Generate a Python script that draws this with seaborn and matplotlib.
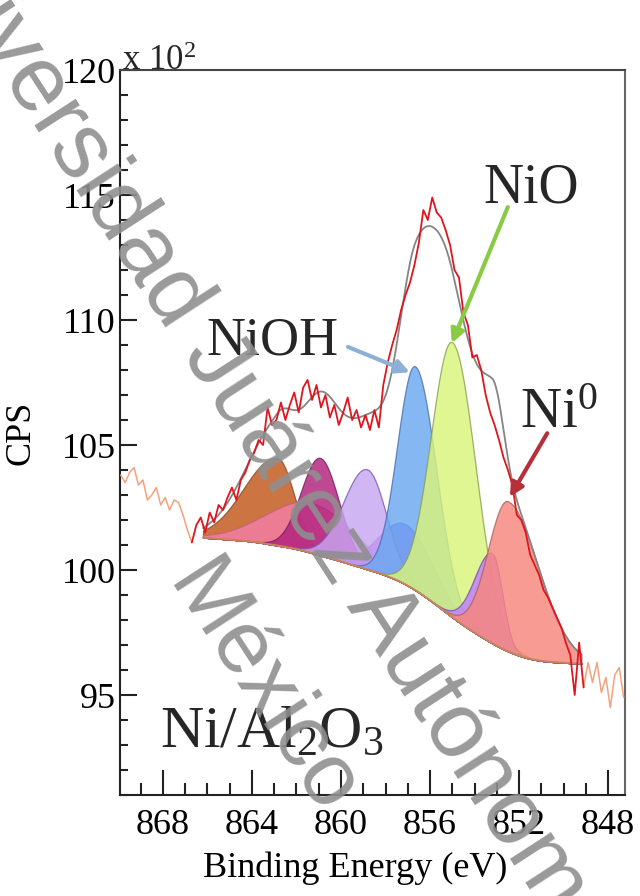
import numpy as np
import pandas as pd
import matplotlib
matplotlib.use("Agg")
import matplotlib.pyplot as plt
from matplotlib.ticker import MultipleLocator
import seaborn as sns

# ---------------- data (CPS / 100) ----------------
energy = np.round(np.arange(869.9, 847.25, -0.2), 1)   # binding-energy grid (eV)
cps = [
    103.8, 103.5, 103.9, 104.1, 103.4, 103.6, 102.8, 103.0, 103.3, 102.6,
    102.9, 102.4, 102.8, 102.7, 102.2, 101.6, 101.1, 101.8, 102.1, 101.5,
    102.3, 101.9, 102.6, 102.4, 102.9, 103.3, 102.8, 103.6, 103.9, 104.4,
    104.7, 105.2, 105.0, 106.5, 105.8, 106.0, 106.7, 106.0, 106.6, 107.1,
    106.3, 107.3, 107.6, 106.8, 107.4, 106.5, 107.0, 106.1, 106.6, 105.8,
    106.3, 106.9, 106.0, 106.4, 105.7, 106.2, 105.6, 106.4, 105.7, 107.4,
    108.3, 109.0, 109.6, 110.4, 111.0, 111.5, 112.2, 113.1, 114.4, 114.0,
    114.9, 114.3, 114.1, 113.6, 113.0, 112.0, 111.7, 110.3, 109.8, 108.5,
    108.6, 108.0, 107.0, 106.3, 105.8, 105.2, 104.5, 104.0, 103.4, 102.2,
    102.0, 101.5, 100.6, 100.2, 99.8, 99.2, 98.9, 98.5, 98.1, 97.7,
    97.1, 96.6, 95.0, 97.1, 95.3, 96.3, 95.5, 96.3, 95.1, 95.7,
    94.5, 95.8, 96.1, 94.9,
]

fit_window = [866.2, 849.2]          # eV range of the peak fit

# Shirley-type background
bg_energy = [866.2, 864.0, 862.0, 860.0, 858.0, 857.0, 856.0, 855.0, 854.2, 853.0, 852.0, 851.0, 849.2]
bg_level = [101.3, 101.15, 100.85, 100.35, 99.8, 99.4, 98.8, 98.1, 97.6, 96.95, 96.55, 96.35, 96.25]

# fitted components (drawing order)
comp_label = ["sat1", "sat2", "sat3", "sat4", "sat5", "NiOH", "NiO", "sat6", "Ni0"]
comp_center = [862.85, 861.3, 860.94, 857.1, 858.83, 856.67, 855.0, 853.2, 852.5]
comp_height = [3.5, 2.0, 3.9, 2.4, 4.0, 8.95, 11.0, 3.6, 6.0]
comp_sig_hi = [1.5, 2.0, 0.85, 1.2, 1.05, 0.8, 0.95, 0.8, 0.9]
comp_sig_lo = [0.75, 2.0, 0.85, 1.2, 0.87, 0.95, 1.05, 0.45, 1.4]
comp_color = ["#c2561a", "#f47ea6", "#b1207c", "#a55cf5", "#c7a6f2",
              "#6aa8f0", "#d9f47a", "#c07cff", "#f7867c"]
comp_edge = ["#8a4a2a", "#c0607a", "#7a2060", "#6a40b0", "#7a5ab0",
             "#4a70b0", "#8aa050", "#7a50b0", "#b06060"]

# ---------------- style ----------------
sns.set_theme(style="ticks")
plt.rcParams["font.family"] = ["Liberation Serif", "DejaVu Serif"]
plt.rcParams["mathtext.fontset"] = "custom"
plt.rcParams["mathtext.rm"] = "Liberation Serif"
plt.rcParams["mathtext.it"] = "Liberation Serif:italic"
plt.rcParams["mathtext.bf"] = "Liberation Serif:bold"
plt.rcParams["axes.grid"] = False

fig = plt.figure(figsize=(6.4, 8.96), dpi=100)
ax = fig.add_axes([120 / 640, 1 - 795 / 896, 505 / 640, 725 / 896])

df = pd.DataFrame({"E": energy, "cps": cps})
left = df[df.E >= 866.7]
mid = df[(df.E <= 866.7) & (df.E >= 849.1)]
right = df[df.E <= 849.1]

Ef = np.linspace(fit_window[0], fit_window[1], 500)
bg_lin = np.interp(Ef, bg_energy[::-1], bg_level[::-1])
k = 15
bg = np.convolve(np.pad(bg_lin, k, mode="edge"), np.ones(2 * k + 1) / (2 * k + 1), mode="valid")


def component(c, h, shi, slo):
    s = np.where(Ef > c, shi, slo)
    return h * np.exp(-0.5 * ((Ef - c) / s) ** 2)


total = np.zeros_like(Ef)
for i in range(len(comp_label)):
    y = component(comp_center[i], comp_height[i], comp_sig_hi[i], comp_sig_lo[i])
    total += y
    ax.fill_between(Ef, bg, bg + y, facecolor=comp_color[i], edgecolor=comp_edge[i],
                    alpha=0.82, lw=0.9, zorder=2 + i * 0.01)
envelope = bg + total

sns.lineplot(x=Ef, y=bg, color="#c8865a", lw=1.3, ax=ax, zorder=3)
sns.lineplot(x=Ef, y=envelope, color="#858585", lw=1.3, ax=ax, zorder=4)
sns.lineplot(data=left, x="E", y="cps", color="#f3a27c", lw=1.1, ax=ax, zorder=5)
sns.lineplot(data=right, x="E", y="cps", color="#f3a27c", lw=1.1, ax=ax, zorder=5)
sns.lineplot(data=mid, x="E", y="cps", color="#e0151d", lw=1.3, ax=ax, zorder=6)

# ---------------- axes ----------------
ax.set_xlim(869.93, 847.24)
ax.set_ylim(91, 120)
ax.set_xticks([868, 864, 860, 856, 852, 848])
ax.set_yticks([95, 100, 105, 110, 115, 120])
ax.xaxis.set_minor_locator(MultipleLocator(1))
ax.yaxis.set_minor_locator(MultipleLocator(1))
ax.tick_params(which="both", direction="in", top=False, right=False, colors="#222222")
ax.tick_params(axis="x", which="major", length=18, width=1.5, labelsize=26, pad=10)
ax.tick_params(axis="x", which="minor", length=8.5, width=1.5)
ax.tick_params(axis="y", which="major", length=12, width=1.5, labelsize=26, pad=3)
ax.tick_params(axis="y", which="minor", length=6, width=1.5)
for lab in ax.get_xticklabels() + ax.get_yticklabels():
    lab.set_color("black")

for side, col in [("left", "#222222"), ("bottom", "#222222"), ("top", "#444444"), ("right", "#666666")]:
    ax.spines[side].set_color(col)
    ax.spines[side].set_linewidth(1.5)

ax.set_xlabel("Binding Energy (eV)", fontsize=26, color="black")
ax.xaxis.set_label_coords(0.465, -0.078)
ax.set_ylabel("CPS", fontsize=26, color="black")
ax.yaxis.set_label_coords(-0.164, 0.5)

ax.text(0.004, 1.0, r"x 10$^{2}$", transform=ax.transAxes, fontsize=25,
        ha="left", va="baseline")

# ---------------- labels & arrows ----------------
ax.text(0.172, 0.607, "NiOH", transform=ax.transAxes, fontsize=39, ha="left", va="baseline", zorder=8)
ax.text(0.719, 0.817, "NiO", transform=ax.transAxes, fontsize=40, ha="left", va="baseline", zorder=8)
ax.text(0.792, 0.506, r"Ni$^{0}$", transform=ax.transAxes, fontsize=41, ha="left", va="baseline", zorder=8)
ax.text(0.079, 0.066, r"Ni/Al$_{2}$O$_{3}$", transform=ax.transAxes, fontsize=43,
        ha="left", va="baseline", zorder=8)

arrows = [((0.4515, 0.618), (0.574, 0.583), "#8eb0d6"),
          ((0.768, 0.811), (0.657, 0.623), "#8acb46"),
          ((0.846, 0.499), (0.772, 0.411), "#b5303a")]
for start, end, col in arrows:
    ax.annotate("", xy=end, xytext=start, xycoords=ax.transAxes, textcoords=ax.transAxes,
                arrowprops=dict(arrowstyle="-|>", color=col, lw=3, mutation_scale=20,
                                shrinkA=0, shrinkB=0), zorder=9)

# ---------------- repository watermark ----------------
wm_kw = dict(color="#8f8f8f", rotation=-57, rotation_mode="anchor",
             family=["Liberation Sans", "DejaVu Sans"], zorder=20, alpha=0.9)
px, py = 182, 354
fig.text(px / 640, 1 - py / 896, "Universidad ", ha="right", va="baseline", fontsize=67, **wm_kw)
fig.text(px / 640, 1 - py / 896, "Juárez Autónoma", ha="left", va="baseline", fontsize=67, **wm_kw)
fig.text(262 / 640, 1 - 690 / 896, "México", ha="center", va="center", fontsize=64, **wm_kw)

fig.savefig("out.png", dpi=100)
